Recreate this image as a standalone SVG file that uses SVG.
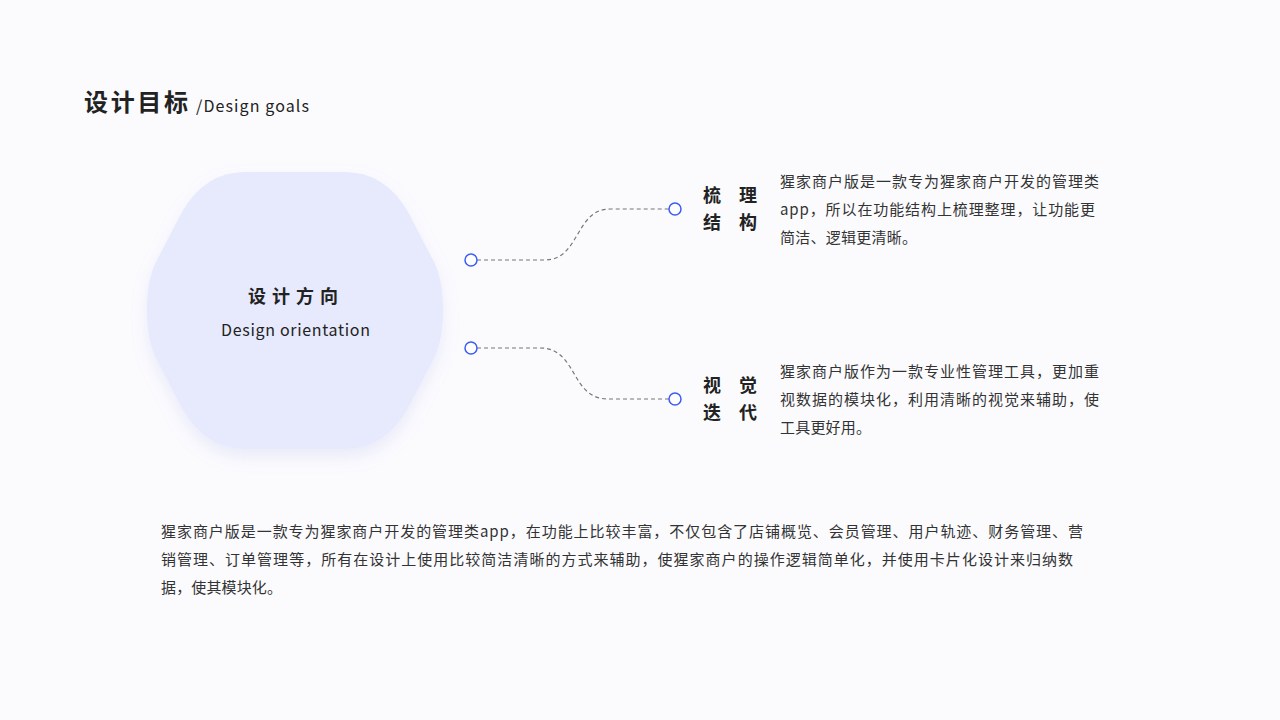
<svg xmlns="http://www.w3.org/2000/svg" width="1280" height="720" viewBox="0 0 1280 720">
<defs>
<style>
.t{font-family:"Noto Sans CJK SC","Noto Sans",sans-serif;fill:#222}
.b{font-size:15px;fill:#333}
.h{font-size:18px;font-weight:bold;fill:#222}
.dot{fill:#fff;stroke:#3b5cf5;stroke-width:1.5}
.c{fill:none;stroke:#777;stroke-width:1.2;stroke-dasharray:4 3}
</style>
<filter id="sh" x="-20%" y="-20%" width="140%" height="150%"><feDropShadow dx="0" dy="8" stdDeviation="8" flood-color="#a0a8e0" flood-opacity="0.2"/></filter>
</defs>
<rect width="1280" height="720" fill="#fbfbfe"/>
<text class="t" x="84" y="111" font-size="24" font-weight="bold" textLength="104">设计目标</text>
<text class="t" x="196" y="112" font-size="16" font-family="Inter,sans-serif" textLength="113">/Design goals</text>
<g id="center">
<path filter="url(#sh)" fill="#e7eafd" d="M245 172 L345 172 Q385 172 408 212 L434 262 Q443 280 443 310 Q443 340 434 358 L408 408 Q385 449 345 449 L245 449 Q205 449 182 408 L156 358 Q147 340 147 310 Q147 280 156 262 L182 212 Q205 172 245 172 Z"/>
<text class="t" x="296" y="303" text-anchor="middle" font-size="18" font-weight="bold" letter-spacing="6">设计方向</text>
<text class="t" x="221" y="336" font-size="16" font-family="Inter,sans-serif" textLength="149">Design orientation</text>
</g>
<g id="connectors">
<path class="c" d="M477 260 L545 260 C580 260 575 209 610 209 L669 209"/>
<path class="c" d="M477 348 L540 348 C578 348 570 399 608 399 L669 399"/>
<circle class="dot" cx="471" cy="260" r="6"/>
<circle class="dot" cx="675" cy="209" r="6"/>
<circle class="dot" cx="471" cy="348" r="6"/>
<circle class="dot" cx="675" cy="399" r="6"/>
</g>
<g id="n1">
<text class="t h" x="703" y="202">梳</text><text class="t h" x="739" y="202">理</text>
<text class="t h" x="703" y="229">结</text><text class="t h" x="739" y="229">构</text>
<text class="t b" x="780" y="187" textLength="319">猩家商户版是一款专为猩家商户开发的管理类</text>
<text class="t b" x="780" y="215" textLength="315">app，所以在功能结构上梳理整理，让功能更</text>
<text class="t b" x="780" y="243" textLength="137">简洁、逻辑更清晰。</text>
</g>
<g id="n2">
<text class="t h" x="703" y="392">视</text><text class="t h" x="739" y="392">觉</text>
<text class="t h" x="703" y="419">迭</text><text class="t h" x="739" y="419">代</text>
<text class="t b" x="780" y="377" textLength="319">猩家商户版作为一款专业性管理工具，更加重</text>
<text class="t b" x="780" y="405" textLength="319">视数据的模块化，利用清晰的视觉来辅助，使</text>
<text class="t b" x="780" y="433" textLength="91">工具更好用。</text>
</g>
<g id="desc">
<text class="t b" x="161" y="537" textLength="922">猩家商户版是一款专为猩家商户开发的管理类app，在功能上比较丰富，不仅包含了店铺概览、会员管理、用户轨迹、财务管理、营</text>
<text class="t b" x="161" y="565" textLength="912">销管理、订单管理等，所有在设计上使用比较简洁清晰的方式来辅助，使猩家商户的操作逻辑简单化，并使用卡片化设计来归纳数</text>
<text class="t b" x="161" y="593" textLength="121">据，使其模块化。</text>
</g>
</svg>
